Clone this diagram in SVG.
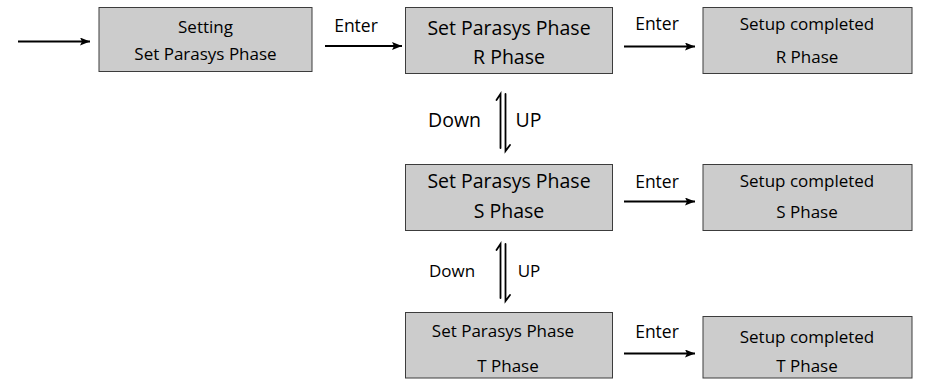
<svg xmlns="http://www.w3.org/2000/svg" width="925" height="379" viewBox="0 0 925 379">
<defs>
<marker id="ah" viewBox="0 0 10 8" refX="10" refY="4" markerWidth="10" markerHeight="8" markerUnits="userSpaceOnUse" orient="auto">
<path d="M0,0 L10,4 L0,8 L2,4 Z" fill="#000"/>
</marker>
<style>
.box{fill:#cccccc;stroke:#3c3c3c;stroke-width:1}
text{font-family:"Open Sans","Noto Sans","DejaVu Sans",sans-serif;fill:#000;text-anchor:middle}
.s15{font-size:17px}
.s17{font-size:19.5px}
.en{font-size:17.5px}
.ln{stroke:#000;stroke-width:2;fill:none}
.h{stroke:#000;stroke-width:1.8;fill:none;stroke-linecap:round}
</style>
</defs>
<rect width="925" height="379" fill="#fff"/>
<g id="node-setting">
<rect class="box" x="99" y="7.5" width="213" height="64"/>
<text class="s15" x="205.5" y="33">Setting</text>
<text class="s15" x="205.5" y="60">Set Parasys Phase</text>
</g>
<g id="node-r">
<rect class="box" x="405.5" y="7.5" width="207" height="66"/>
<text class="s17" x="509" y="35">Set Parasys Phase</text>
<text class="s17" x="509" y="64">R Phase</text>
</g>
<g id="node-r-done">
<rect class="box" x="703" y="7.5" width="209" height="66"/>
<text class="s15" x="807" y="30">Setup completed</text>
<text class="s15" x="807" y="63">R Phase</text>
</g>
<g id="node-s">
<rect class="box" x="405.5" y="164.5" width="207" height="66"/>
<text class="s17" x="509" y="188">Set Parasys Phase</text>
<text class="s17" x="509" y="218">S Phase</text>
</g>
<g id="node-s-done">
<rect class="box" x="703" y="164.5" width="209" height="66"/>
<text class="s15" x="807" y="187">Setup completed</text>
<text class="s15" x="807" y="218">S Phase</text>
</g>
<g id="node-t">
<rect class="box" x="405.5" y="312.5" width="207" height="65.5"/>
<text class="s15" x="503" y="337">Set Parasys Phase</text>
<text class="s15" x="508" y="372">T Phase</text>
</g>
<g id="node-t-done">
<rect class="box" x="703" y="316.5" width="209" height="61.5"/>
<text class="s15" x="807" y="343">Setup completed</text>
<text class="s15" x="807" y="372">T Phase</text>
</g>
<g id="connectors">
<line class="ln" x1="18" y1="41.5" x2="90" y2="41.5" marker-end="url(#ah)"/>
<line class="ln" x1="325" y1="46" x2="402" y2="46" marker-end="url(#ah)"/>
<text class="en" x="356" y="32">Enter</text>
<line class="ln" x1="624" y1="46.5" x2="695" y2="46.5" marker-end="url(#ah)"/>
<text class="en" x="657" y="30">Enter</text>
<line class="ln" x1="624" y1="201.5" x2="695" y2="201.5" marker-end="url(#ah)"/>
<text class="en" x="657" y="188">Enter</text>
<line class="ln" x1="624" y1="353.5" x2="695" y2="353.5" marker-end="url(#ah)"/>
<text class="en" x="657" y="338">Enter</text>
<g id="updown-1">
<path class="h" d="M500.5,148 L500.5,94 L496.5,100"/>
<path class="h" d="M505.5,94 L505.5,151 L510,145"/>
</g>
<text class="s17" x="454.5" y="127">Down</text>
<text class="s17" x="528.5" y="127">UP</text>
<g id="updown-2">
<path class="h" d="M500.5,298 L500.5,244 L496.5,250"/>
<path class="h" d="M505.5,244 L505.5,301 L510,295"/>
</g>
<text class="s15" x="452" y="277">Down</text>
<text class="s15" x="529" y="277">UP</text>
</g>
</svg>
